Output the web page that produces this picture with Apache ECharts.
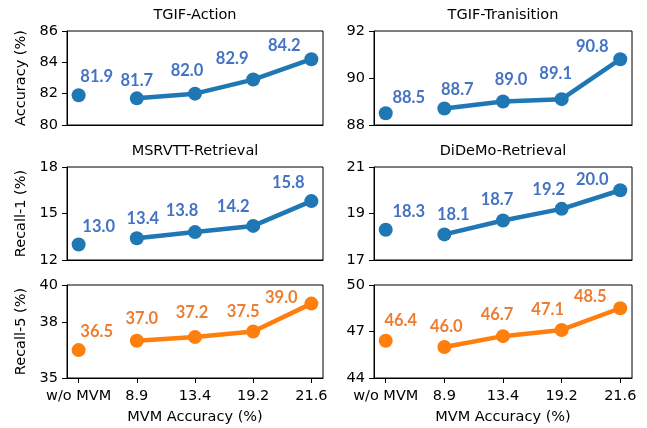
<!DOCTYPE html>
<html>
<head>
<meta charset="utf-8">
<script src="https://cdn.jsdelivr.net/npm/echarts@6/dist/echarts.min.js"></script>
<style>html,body{margin:0;padding:0;background:#fff}#c{width:647px;height:428px}</style>
</head>
<body>
<div id="c"></div>
<script>
// ---- data ----
const categories = ['w/o MVM', '8.9', '13.4', '19.2', '21.6'];
const tgifAction = [81.9, 81.7, 82.0, 82.9, 84.2];
const tgifTransition = [88.5, 88.7, 89.0, 89.1, 90.8];
const msrvttR1 = [13.0, 13.4, 13.8, 14.2, 15.8];
const didemoR1 = [18.3, 18.1, 18.7, 19.2, 20.0];
const msrvttR5 = [36.5, 37.0, 37.2, 37.5, 39.0];
const didemoR5 = [46.4, 46.0, 46.7, 47.1, 48.5];
const ticksTgifAction = [80, 82, 84, 86];
const ticksTgifTransition = [88, 90, 92];
const ticksMsrvttR1 = [12, 15, 18];
const ticksDidemoR1 = [17, 19, 21];
const ticksMsrvttR5 = [35, 38, 40];
const ticksDidemoR5 = [44, 47, 50];
const titles = ['TGIF-Action', 'TGIF-Tranisition', 'MSRVTT-Retrieval', 'DiDeMo-Retrieval', '', ''];
const yNames = ['Accuracy (%)', 'Recall-1 (%)', 'Recall-5 (%)'];
const xName = 'MVM Accuracy (%)';

// ---- layout / style ----
const FONT = 'DejaVu Sans';
const BLUE = '#1f77b4', ORANGE = '#ff7f0e';
const BLUE_TXT = '#4472C4', ORANGE_TXT = '#ED7D31';
const colX = [{left: 67, width: 256}, {left: 374, width: 258}];
const rowY = [{top: 31, height: 94}, {top: 167, height: 93}, {top: 285, height: 93}];
const labelShift = [
  [[18, -19], [0, -18], [-8, -23], [-21, -21], [-27, -14]],
  [[23, -16], [13, -19], [8, -22], [-6, -25], [-28, -13]],
  [[20, -18], [6, -20], [-13, -21], [-20, -19], [-23, -18]],
  [[23, -18], [9, -20], [-6, -21], [-13, -19], [-28, -11]],
  [[18, -18], [5, -22], [-3, -24], [-10, -20], [-30, -6]],
  [[15, -20], [2, -20], [-6, -21], [-14, -20], [-30, -12]]
];
const panels = [
  {vals: tgifAction, ticks: ticksTgifAction},
  {vals: tgifTransition, ticks: ticksTgifTransition},
  {vals: msrvttR1, ticks: ticksMsrvttR1},
  {vals: didemoR1, ticks: ticksDidemoR1},
  {vals: msrvttR5, ticks: ticksMsrvttR5},
  {vals: didemoR5, ticks: ticksDidemoR5}
];

const grid = [], xAxis = [], yAxis = [], series = [], title = [];
const xIdx = categories.map((c, i) => i);
panels.forEach((p, i) => {
  const col = i % 2, row = Math.floor(i / 2);
  const bottom = row === 2;
  const color = bottom ? ORANGE : BLUE;
  const txt = bottom ? ORANGE_TXT : BLUE_TXT;
  grid.push({left: colX[col].left, width: colX[col].width, top: rowY[row].top, height: rowY[row].height,
    show: true, borderColor: '#000', borderWidth: 1, containLabel: false});
  xAxis.push({
    type: 'value', gridIndex: i, min: -0.2, max: 4.2,
    axisLine: {show: true, onZero: false, lineStyle: {color: '#000', width: 1}},
    splitLine: {show: false},
    axisTick: {show: bottom, customValues: xIdx, length: 5, lineStyle: {color: '#000'}},
    axisLabel: {show: bottom, customValues: xIdx, formatter: v => categories[Math.round(v)],
      color: '#000', fontFamily: FONT, fontSize: 14.5, margin: 11},
    name: bottom ? xName : '', nameLocation: 'middle', nameGap: 32,
    nameTextStyle: {color: '#000', fontFamily: FONT, fontSize: 14.5}
  });
  yAxis.push({
    type: 'value', gridIndex: i, min: p.ticks[0], max: p.ticks[p.ticks.length - 1],
    axisLine: {show: true, onZero: false, lineStyle: {color: '#000', width: 1}},
    splitLine: {show: false},
    axisTick: {show: true, customValues: p.ticks, length: 5, lineStyle: {color: '#000'}},
    axisLabel: {customValues: p.ticks, formatter: v => String(v),
      color: '#000', fontFamily: FONT, fontSize: 14.5, margin: 9},
    name: col === 0 ? yNames[row] : '', nameLocation: 'middle', nameGap: 38,
    nameTextStyle: {color: '#000', fontFamily: FONT, fontSize: 14.5}
  });
  if (titles[i]) {
    title.push({text: titles[i], left: colX[col].left + colX[col].width / 2, top: rowY[row].top - 23,
      textAlign: 'center', padding: 0,
      textStyle: {color: '#000', fontFamily: FONT, fontSize: 14.5, fontWeight: 'normal'}});
  }
  const mk = k => ({value: [k, p.vals[k]], label: {offset: labelShift[i][k]}});
  const lbl = {show: true, position: 'inside', formatter: d => d.value[1].toFixed(1),
    color: txt, fontFamily: 'Lato', fontWeight: 'bold', fontSize: 16.5};
  series.push({
    type: 'line', xAxisIndex: i, yAxisIndex: i,
    data: xIdx.slice(1).map(mk),
    symbol: 'circle', symbolSize: 14, color: color,
    itemStyle: {color: color}, lineStyle: {color: color, width: 4.5},
    label: lbl, emphasis: {disabled: true}
  });
  series.push({
    type: 'scatter', xAxisIndex: i, yAxisIndex: i,
    data: [mk(0)], symbol: 'circle', symbolSize: 14,
    itemStyle: {color: color, opacity: 1}, label: lbl, emphasis: {disabled: true}
  });
});

const chart = echarts.init(document.getElementById('c'), null, {renderer: 'canvas'});
chart.setOption({animation: false, backgroundColor: '#fff', title, grid, xAxis, yAxis, series});
</script>
</body>
</html>
